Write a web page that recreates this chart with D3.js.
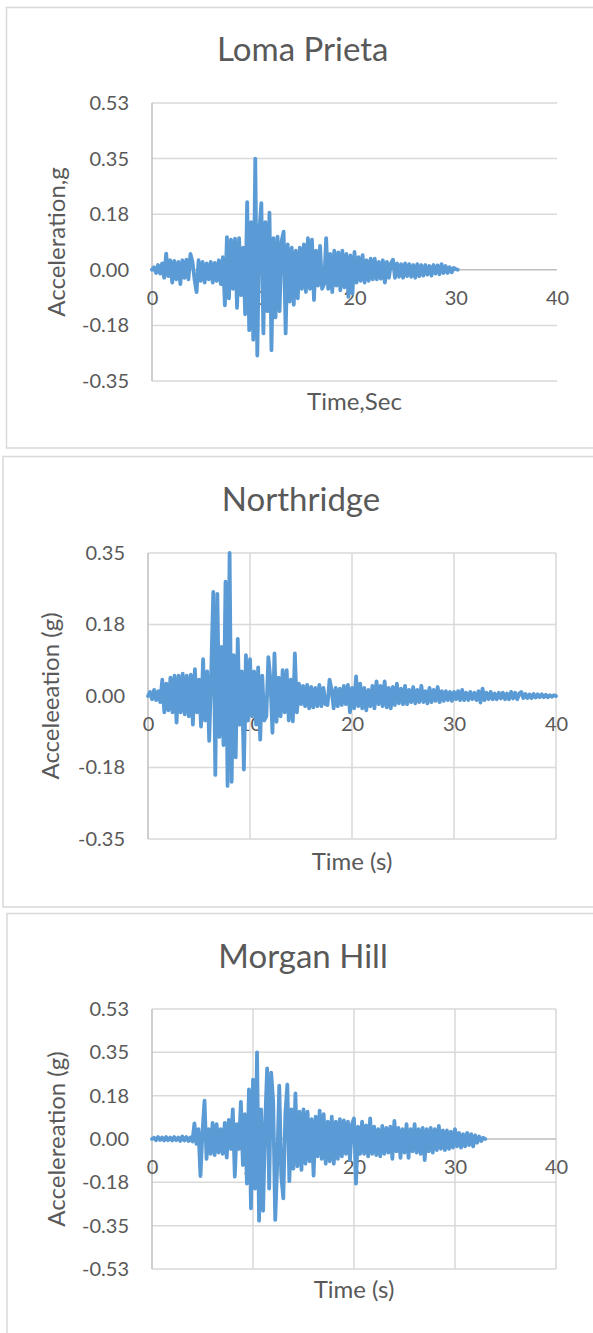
<!DOCTYPE html>
<html>
<head>
<meta charset="utf-8">
<script src="https://cdn.jsdelivr.net/npm/d3@7"></script>
<style>
  html, body { margin: 0; padding: 0; background: #ffffff; }
  svg { display: block; }
  text { font-family: Lato, "Open Sans", sans-serif; fill: #595959; }
</style>
</head>
<body>
<svg id="chart" width="593" height="1333"></svg>
<script>
// ---------------- DATA ----------------
// Sampling interval of the digitised records (seconds)
const sampleStep = 0.2;

// Ground acceleration, in milli-g, one value every sampleStep seconds, starting at t = 0
const lomaPrietaMilliG = [
  0, 8, -10, 15, -12,
  20, -25, 51, -20, 30,
  -40, 28, -30, 25, -45,
  30, -25, 32, -30, 50,
  25, -30, -70, 30, -35,
  25, -40, 20, -30, 25,
  -40, 22, -35, 30, -45,
  40, -112, 103, -90, 95,
  -60, 98, -120, 100, -80,
  70, -140, 213, -190, 150,
  -220, 350, -270, 120, 210,
  -200, 150, -130, 180, -253,
  100, -150, 104, -130, 90,
  120, -200, 80, -100, 70,
  -110, 60, -90, 70, -60,
  80, -70, 100, -60, 95,
  -95, 60, -50, 75, -60,
  -45, 100, -60, 50, -70,
  60, -50, 55, -65, 60,
  -55, 50, -85, 45, -75,
  56, -40, 40, -35, 46,
  -40, 30, -35, 35, -30,
  35, -30, 25, -28, 30,
  -40, 25, -25, 20, 32,
  -25, 20, -22, 18, -25,
  20, -20, 18, -22, 15,
  -25, 18, -20, 15, -18,
  15, -15, 12, -18, 15,
  -12, 14, -14, 18, -10,
  12, -10, 8, -8, 6,
  2, 0
];

const northridgeMilliG = [
  0, 10, -8, 15, -10,
  12, -15, 40, -40, 30,
  -35, 45, -40, 50, -65,
  50, -40, 55, -45, 50,
  -50, 52, -70, 66, -40,
  40, -75, 90, -60, 60,
  -110, 60, 255, -193, 250,
  -100, 120, -120, 280, -220,
  350, -210, 100, -150, 140,
  -70, 60, -180, 100, -60,
  90, -50, 60, -70, 70,
  -107, 50, -60, -50, 95,
  40, -90, 104, -63, 45,
  -50, 63, -40, 63, -60,
  40, -62, 104, -40, 30,
  -20, 25, -25, 27, -30,
  22, -28, 20, -25, 27,
  -25, 20, -20, -22, 40,
  15, -30, 20, -25, 18,
  -22, 25, -20, 27, -40,
  20, -30, 48, -25, 30,
  -30, 20, -35, 15, -25,
  25, -30, 36, -20, 25,
  -25, 36, -28, 20, -30,
  22, -22, 30, -18, 18,
  -20, 25, -20, 15, -15,
  22, -18, 15, -15, 25,
  -15, 12, -18, 20, -15,
  15, -12, 22, -15, 12,
  -12, 12, -10, 10, -12,
  10, -8, 12, -10, 15,
  -10, 8, -10, 10, -8,
  8, -10, 12, -16, 18,
  -10, 8, -8, 10, -8,
  6, -8, 8, -6, 8,
  -8, 6, -8, 10, -6,
  8, -8, 6, 10, -5,
  5, -5, 4, -5, 5,
  -4, 4, -3, 4, -3,
  3, -3, 2, -2, 2,
  0
];

const morganHillMilliG = [
  0, 5, -5, 8, -4,
  6, -6, 8, -5, 6,
  -6, 8, -5, 6, -8,
  10, -6, 8, -8, 6,
  -10, 63, -20, 40, -150,
  30, 155, -80, 40, -60,
  65, -65, 60, -55, 40,
  -60, 65, -75, 77, -40,
  120, -152, 60, -40, 150,
  -105, 100, -180, 200, -280,
  240, -200, 350, -330, 120,
  -290, 60, 285, -200, 268,
  150, -327, -100, 215, -150,
  -240, 100, 220, -170, 120,
  -120, 184, -110, 110, -125,
  120, -100, 110, -90, 80,
  -148, 90, -70, 114, -80,
  100, -100, 70, -90, 90,
  -100, 70, -80, 80, -70,
  75, -60, 70, -85, 60,
  83, -180, 50, -60, 70,
  -60, 55, -70, 83, -60,
  50, -65, 40, -70, 53,
  -60, 45, -55, 50, -80,
  73, -50, 45, -76, 40,
  -55, 60, -76, 40, -50,
  60, -55, 40, -60, 45,
  -85, 40, -50, 45, -55,
  40, -45, 53, -40, 35,
  -45, 35, -40, 30, -35,
  40, -30, 25, -35, 20,
  -30, 25, -25, 20, -30,
  15, -15, 10, -8, 5,
  0
];

// Axis ticks and labels
const timeTicks = [0, 10, 20, 30, 40];
const timeTickLabels = ["0", "10", "20", "30", "40"];

const lomaAccelTicks = [-0.35, -0.175, 0, 0.175, 0.35, 0.525];
const lomaAccelLabels = ["-0.35", "-0.18", "0.00", "0.18", "0.35", "0.53"];

const northridgeAccelTicks = [-0.35, -0.175, 0, 0.175, 0.35];
const northridgeAccelLabels = ["-0.35", "-0.18", "0.00", "0.18", "0.35"];

const morganAccelTicks = [-0.525, -0.35, -0.175, 0, 0.175, 0.35, 0.525];
const morganAccelLabels = ["-0.53", "-0.35", "-0.18", "0.00", "0.18", "0.35", "0.53"];

// Chart texts
const chartTitles = ["Loma Prieta", "Northridge", "Morgan Hill"];
const xAxisTitles = ["Time,Sec", "Time (s)", "Time (s)"];
const yAxisTitles = ["Acceleration,g", "Acceleeation (g)", "Accelereation (g)"];

// ---------------- LAYOUT ----------------
const panels = [
  { frame: [6.5, 7.5, 640, 440.5], plot: { left: 152, right: 557, top: 103, bottom: 381 },
    titleY: 61, xTitleY: 410, yTitleX: 57, vGrid: false,
    values: lomaPrietaMilliG, yTicks: lomaAccelTicks, yLabels: lomaAccelLabels },
  { frame: [3, 456.5, 640, 450.5], plot: { left: 148, right: 556, top: 553, bottom: 839 },
    titleY: 511, xTitleY: 870, yTitleX: 51, vGrid: true,
    values: northridgeMilliG, yTicks: northridgeAccelTicks, yLabels: northridgeAccelLabels },
  { frame: [7, 913.5, 640, 500], plot: { left: 152, right: 556, top: 1009, bottom: 1269 },
    titleY: 968, xTitleY: 1298, yTitleX: 57, vGrid: true,
    values: morganHillMilliG, yTicks: morganAccelTicks, yLabels: morganAccelLabels }
];

const svg = d3.select("#chart");

panels.forEach((p, i) => {
  const g = svg.append("g");
  const [fx, fy, fw, fh] = p.frame;
  g.append("rect")
    .attr("x", fx).attr("y", fy).attr("width", fw).attr("height", fh)
    .attr("fill", "#ffffff").attr("stroke", "#d9d9d9").attr("stroke-width", 1.5);

  const yMin = d3.min(p.yTicks), yMax = d3.max(p.yTicks);
  const x = d3.scaleLinear().domain([0, 40]).range([p.plot.left, p.plot.right]);
  const y = d3.scaleLinear().domain([yMin, yMax]).range([p.plot.bottom, p.plot.top]);

  // horizontal gridlines
  g.append("g").selectAll("line").data(p.yTicks.filter(v => v !== 0)).join("line")
    .attr("x1", x(0)).attr("x2", x(40))
    .attr("y1", d => y(d)).attr("y2", d => y(d))
    .attr("stroke", "#d9d9d9").attr("stroke-width", 1.5);

  // vertical gridlines
  if (p.vGrid) {
    g.append("g").selectAll("line").data(timeTicks.filter(v => v !== 0)).join("line")
      .attr("x1", d => x(d)).attr("x2", d => x(d))
      .attr("y1", y(yMin)).attr("y2", y(yMax))
      .attr("stroke", "#d9d9d9").attr("stroke-width", 1.5);
  }

  // zero line (time axis) and value axis line
  g.append("line")
    .attr("x1", x(0)).attr("x2", x(40)).attr("y1", y(0)).attr("y2", y(0))
    .attr("stroke", "#bfbfbf").attr("stroke-width", 1.5);
  g.append("line")
    .attr("x1", x(0)).attr("x2", x(0)).attr("y1", y(yMin)).attr("y2", y(yMax))
    .attr("stroke", "#bfbfbf").attr("stroke-width", 1.5);

  // y tick labels
  const yAxis = d3.axisLeft(y).tickValues(p.yTicks)
    .tickFormat((d, k) => p.yLabels[k]).tickSize(0).tickPadding(23);
  const ya = g.append("g").attr("transform", `translate(${x(0)},0)`).call(yAxis);
  ya.select(".domain").remove();
  ya.selectAll("text").attr("font-size", 20).attr("font-family", "Lato").attr("fill", "#595959");

  // x tick labels (sit just below the zero line)
  const xAxis = d3.axisBottom(x).tickValues(timeTicks)
    .tickFormat((d, k) => timeTickLabels[k]).tickSize(0).tickPadding(21);
  const xa = g.append("g").attr("transform", `translate(0,${y(0)})`).call(xAxis);
  xa.select(".domain").remove();
  xa.selectAll("text").attr("font-size", 20).attr("font-family", "Lato").attr("fill", "#595959");

  // the record
  const line = d3.line()
    .x((d, k) => x(k * sampleStep))
    .y(d => y(d / 1000));
  g.append("path")
    .datum(p.values)
    .attr("d", line)
    .attr("fill", "none")
    .attr("stroke", "#5b9bd5")
    .attr("stroke-width", 3.8)
    .attr("stroke-linejoin", "round")
    .attr("stroke-linecap", "round");

  // titles
  g.append("text")
    .attr("x", (fx + 593) / 2 + 3).attr("y", p.titleY)
    .attr("text-anchor", "middle").attr("font-size", 33)
    .text(chartTitles[i]);
  g.append("text")
    .attr("x", (p.plot.left + p.plot.right) / 2).attr("y", p.xTitleY)
    .attr("text-anchor", "middle").attr("font-size", 24)
    .text(xAxisTitles[i]);
  g.append("text")
    .attr("transform", `translate(${p.yTitleX},${(p.plot.top + p.plot.bottom) / 2}) rotate(-90)`)
    .attr("text-anchor", "middle").attr("dy", "0.35em").attr("font-size", 24)
    .text(yAxisTitles[i]);
});
</script>
</body>
</html>
